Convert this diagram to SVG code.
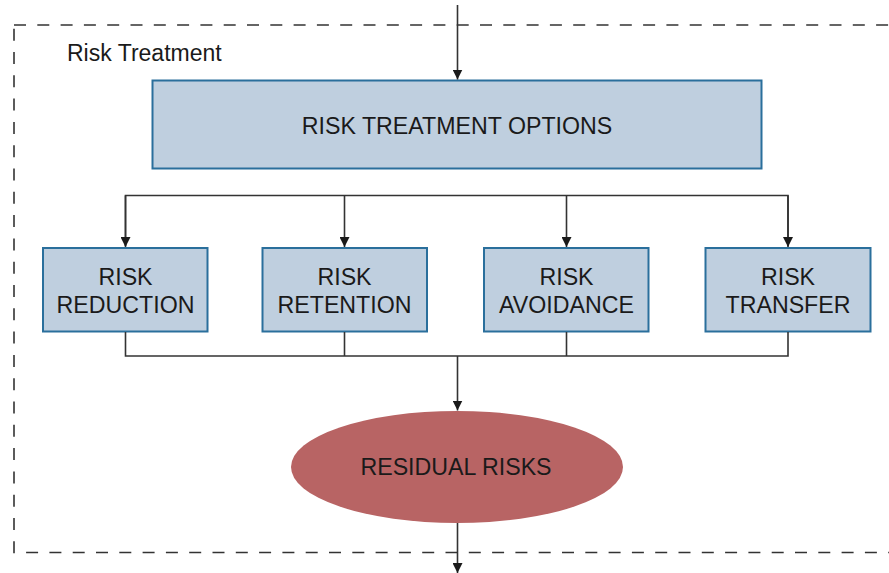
<svg xmlns="http://www.w3.org/2000/svg" width="889" height="573" viewBox="0 0 889 573">
  <defs>
    <marker id="arrow" viewBox="0 0 10 10" refX="10" refY="5" markerWidth="10" markerHeight="10" markerUnits="userSpaceOnUse" orient="auto">
      <path d="M0,0 L10,5 L0,10 z" fill="#1a1a1a"/>
    </marker>
    <style>
      text { font-family: "Liberation Sans", Arial, sans-serif; fill: #1a1a1a; }
      .frame { fill: none; stroke: #333; stroke-width: 1.6; stroke-dasharray: 12 11.3; }
      .box { fill: #bfcfdf; stroke: #2a6f9c; stroke-width: 2; }
      .oval { fill: #b86464; stroke: none; }
      .label { font-size: 23.2px; text-anchor: middle; }
      .wire { fill: none; stroke: #333; stroke-width: 1.6; }
      .wire-arrow { fill: none; stroke: #333; stroke-width: 1.6; marker-end: url(#arrow); }
    </style>
  </defs>
  <rect width="889" height="573" fill="#ffffff"/>

  <!-- dashed boundary of the treatment stage -->
  <rect class="frame" x="14" y="25" width="890" height="527.5"/>
  <text x="67" y="60.5" font-size="23px">Risk Treatment</text>

  <g id="options">
    <rect class="box" x="152.5" y="80.5" width="609" height="88"/>
    <text class="label" x="457" y="134">RISK TREATMENT OPTIONS</text>
  </g>

  <g id="reduction">
    <rect class="box" x="43" y="248" width="164.5" height="83.5"/>
    <text class="label" x="125.5" y="284.5">RISK</text>
    <text class="label" x="125.5" y="312.5">REDUCTION</text>
  </g>

  <g id="retention">
    <rect class="box" x="262.5" y="248" width="164.5" height="83.5"/>
    <text class="label" x="344.5" y="284.5">RISK</text>
    <text class="label" x="344.5" y="312.5">RETENTION</text>
  </g>

  <g id="avoidance">
    <rect class="box" x="484" y="248" width="164.5" height="83.5"/>
    <text class="label" x="566.5" y="284.5">RISK</text>
    <text class="label" x="566.5" y="312.5">AVOIDANCE</text>
  </g>

  <g id="transfer">
    <rect class="box" x="705.5" y="248" width="165" height="83.5"/>
    <text class="label" x="788" y="284.5">RISK</text>
    <text class="label" x="788" y="312.5">TRANSFER</text>
  </g>

  <g id="residual">
    <ellipse class="oval" cx="457" cy="467" rx="166" ry="56"/>
    <text class="label" x="456" y="474.5">RESIDUAL RISKS</text>
  </g>

  <g id="connectors">
    <!-- input into the stage -->
    <line class="wire-arrow" x1="457.5" y1="5" x2="457.5" y2="79.5"/>
    <!-- fan-out to the four options -->
    <polyline class="wire" points="125.5,246 125.5,195.5 788,195.5 788,246"/>
    <line class="wire-arrow" x1="125.5" y1="195.5" x2="125.5" y2="247"/>
    <line class="wire-arrow" x1="344.5" y1="195.5" x2="344.5" y2="247"/>
    <line class="wire-arrow" x1="566.5" y1="195.5" x2="566.5" y2="247"/>
    <line class="wire-arrow" x1="788" y1="195.5" x2="788" y2="247"/>
    <!-- fan-in to residual risks -->
    <polyline class="wire" points="125.5,332 125.5,356 788,356 788,332"/>
    <line class="wire" x1="344.5" y1="332" x2="344.5" y2="356"/>
    <line class="wire" x1="566.5" y1="332" x2="566.5" y2="356"/>
    <line class="wire-arrow" x1="457.5" y1="356" x2="457.5" y2="410.5"/>
    <!-- output from the stage -->
    <line class="wire-arrow" x1="457.5" y1="523" x2="457.5" y2="573"/>
  </g>
</svg>
